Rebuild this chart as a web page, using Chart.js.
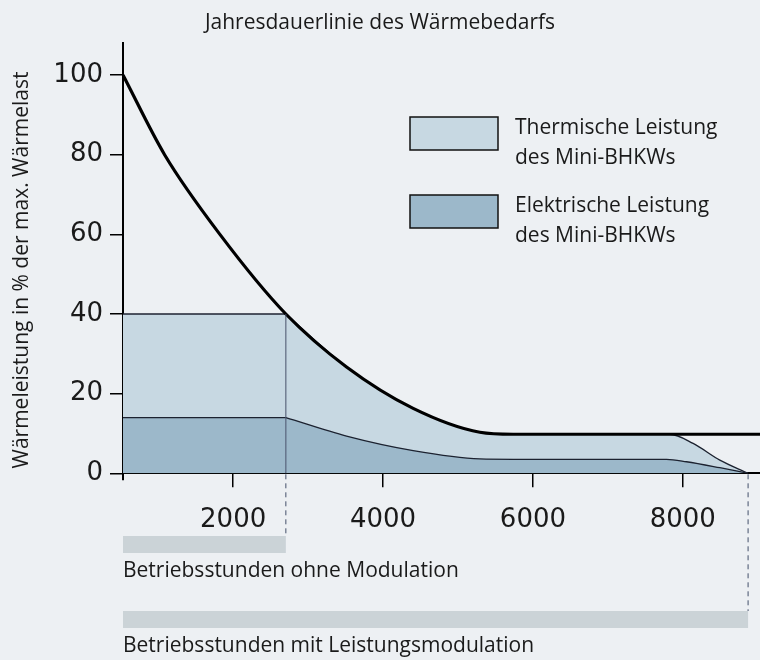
<!DOCTYPE html>
<html>
<head>
<meta charset="utf-8">
<script src="https://cdn.jsdelivr.net/npm/chart.js@4.4.1/dist/chart.umd.min.js"></script>
<style>
    html, body { margin: 0; padding: 0; background: #edf0f3; }
    canvas { display: block; }
</style>
</head>
<body>
<canvas id="chart" width="760" height="660"></canvas>
<script>
// Jahresdauerlinie (Wärmebedarf in % der max. Wärmelast über Betriebsstunden)
const heatHours = [530, 1085, 1823, 2703, 3513, 4402, 5292, 5737, 9030];
const heatLoad = [100, 80, 60, 40, 26.7, 16.3, 10.3, 9.8, 9.8];

// thermische Leistung: konstant bis Modulationsbeginn, danach entlang der Dauerlinie
const thermFlatHours = [530, 2703];
const thermFlatLoad = [40, 40];
const thermHours = [2703, 3513, 4402, 5292, 5737, 7827, 8138, 8494, 8871];
const thermLoad = [40, 26.7, 16.3, 10.3, 9.8, 9.8, 7.5, 3.3, 0];

// elektrische Leistung
const elecFlatHours = [530, 2703];
const elecFlatLoad = [14, 14];
const elecHours = [2703, 3513, 4402, 5292, 5737, 7782, 8049, 8494, 8871];
const elecLoad = [14, 9.35, 5.7, 3.6, 3.5, 3.5, 2.9, 1.4, 0];

// Betriebsstunden-Bereiche
const hoursNoModulation = [530, 2703];
const hoursModulation = [530, 8871];

const xTicks = [2000, 4000, 6000, 8000];
const yTicks = [0, 20, 40, 60, 80, 100];

const legendNames = [
    ["Thermische Leistung", "des Mini-BHKWs"],
    ["Elektrische Leistung", "des Mini-BHKWs"],
];
const rangeNames = ["Betriebsstunden ohne Modulation", "Betriebsstunden mit Leistungsmodulation"];

const THERM = "#c7d8e2";
const ELEC = "#9cb8ca";
const BAR = "#cbd3d7";
const GUIDE = "#44506a";
const TEXT = "#1a1a1a";
const FONT = "21px 'Open Sans'";

const pts = (xs, ys) => xs.map((x, i) => ({ x, y: ys[i] }));

const overlay = {
    id: "overlay",
    afterDatasetsDraw(chart) {
        const { ctx, scales: { x, y } } = chart;
        const xa = x.getPixelForValue(hoursNoModulation[1]);
        ctx.save();
        ctx.strokeStyle = GUIDE;
        ctx.lineWidth = 1;
        ctx.beginPath();
        ctx.moveTo(xa, y.getPixelForValue(thermFlatLoad[1]));
        ctx.lineTo(xa, y.getPixelForValue(0));
        ctx.stroke();
        ctx.restore();
    },
    afterDraw(chart) {
        const { ctx, chartArea: a, scales: { x, y } } = chart;
        const y0 = y.getPixelForValue(0);
        ctx.save();

        // y-Achse ragt etwas unter die x-Achse
        ctx.strokeStyle = "#000";
        ctx.lineWidth = 2;
        ctx.beginPath();
        ctx.moveTo(a.left, y0);
        ctx.lineTo(a.left, y0 + 7);
        ctx.stroke();

        // y-Achsentitel
        ctx.fillStyle = TEXT;
        ctx.font = FONT;
        ctx.translate(22, 270);
        ctx.rotate(-Math.PI / 2);
        ctx.textAlign = "center";
        ctx.textBaseline = "middle";
        ctx.fillText("Wärmeleistung in % der max. Wärmelast", 0, 0);
        ctx.setTransform(1, 0, 0, 1, 0, 0);

        // Legende
        const lx = 410, boxes = [[117, THERM], [195, ELEC]];
        boxes.forEach(([top, color], i) => {
            ctx.fillStyle = color;
            ctx.fillRect(lx, top, 88, 33);
            ctx.strokeStyle = "#111";
            ctx.lineWidth = 1.5;
            ctx.strokeRect(lx, top, 88, 33);
            ctx.fillStyle = TEXT;
            ctx.textAlign = "left";
            ctx.textBaseline = "alphabetic";
            legendNames[i].forEach((line, j) => ctx.fillText(line, 515, top + 17 + j * 30));
        });

        // Betriebsstunden-Balken und Hilfslinien
        const ranges = [[hoursNoModulation, 536], [hoursModulation, 611]];
        ranges.forEach(([r, top], i) => {
            const x1 = x.getPixelForValue(r[0]);
            const x2 = x.getPixelForValue(r[1]);
            ctx.fillStyle = BAR;
            ctx.fillRect(x1, top, x2 - x1, 17);
            ctx.strokeStyle = GUIDE;
            ctx.lineWidth = 1;
            ctx.setLineDash([5, 4]);
            ctx.beginPath();
            ctx.moveTo(x2, y0 + 1);
            ctx.lineTo(x2, top);
            ctx.stroke();
            ctx.setLineDash([]);
            ctx.fillStyle = TEXT;
            ctx.textAlign = "left";
            ctx.textBaseline = "middle";
            ctx.fillText(rangeNames[i], x1, top + 35);
        });
        ctx.restore();
    },
};

Chart.defaults.font.family = "'Open Sans', sans-serif";
Chart.defaults.color = TEXT;

const area = (label, xs, ys, color, order, curved) => ({
    label,
    data: pts(xs, ys),
    borderColor: "#1c2230",
    backgroundColor: color,
    borderWidth: 1.3,
    cubicInterpolationMode: curved ? "monotone" : "default",
    pointRadius: 0,
    fill: "origin",
    order,
});

new Chart(document.getElementById("chart"), {
    type: "line",
    data: {
        datasets: [
            {
                label: "Wärmebedarf",
                data: pts(heatHours, heatLoad),
                borderColor: "#000",
                borderWidth: 3.2,
                cubicInterpolationMode: "monotone",
                pointRadius: 0,
                fill: false,
                order: 0,
            },
            area("Elektrische Leistung", elecFlatHours, elecFlatLoad, ELEC, 1, false),
            area("Elektrische Leistung (Modulation)", elecHours, elecLoad, ELEC, 1, true),
            area("Thermische Leistung", thermFlatHours, thermFlatLoad, THERM, 2, false),
            area("Thermische Leistung (Modulation)", thermHours, thermLoad, THERM, 2, true),
        ],
    },
    options: {
        responsive: false,
        animation: false,
        devicePixelRatio: 1,
        layout: { padding: 0 },
        plugins: {
            legend: { display: false },
            tooltip: { enabled: false },
            title: {
                display: true,
                text: "Jahresdauerlinie des Wärmebedarfs",
                font: { size: 21, weight: "normal" },
                padding: { top: 10, bottom: 8 },
                color: TEXT,
            },
        },
        scales: {
            x: {
                type: "linear",
                min: 530,
                max: 9030,
                z: 1,
                afterFit: (s) => { s.height = 186.7; },
                afterBuildTicks: (s) => { s.ticks = xTicks.map((v) => ({ value: v })); },
                border: { color: "#000", width: 2 },
                grid: { drawOnChartArea: false, drawTicks: true, tickLength: 14, color: "#000", lineWidth: 1.5 },
                ticks: {
                    font: { family: "'DejaVu Sans'", size: 26 },
                    padding: 17,
                    maxRotation: 0,
                    callback: (v) => String(v),
                },
            },
            y: {
                min: 0,
                max: 108,
                z: 1,
                afterFit: (s) => { s.width = 123; },
                afterBuildTicks: (s) => { s.ticks = yTicks.map((v) => ({ value: v })); },
                border: { color: "#000", width: 2 },
                grid: { drawOnChartArea: false, drawTicks: true, tickLength: 13, color: "#000", lineWidth: 1.5 },
                ticks: {
                    font: { family: "'DejaVu Sans'", size: 26 },
                    padding: 7,
                    callback: (v) => String(v),
                },
            },
        },
    },
    plugins: [overlay],
});
</script>
</body>
</html>
